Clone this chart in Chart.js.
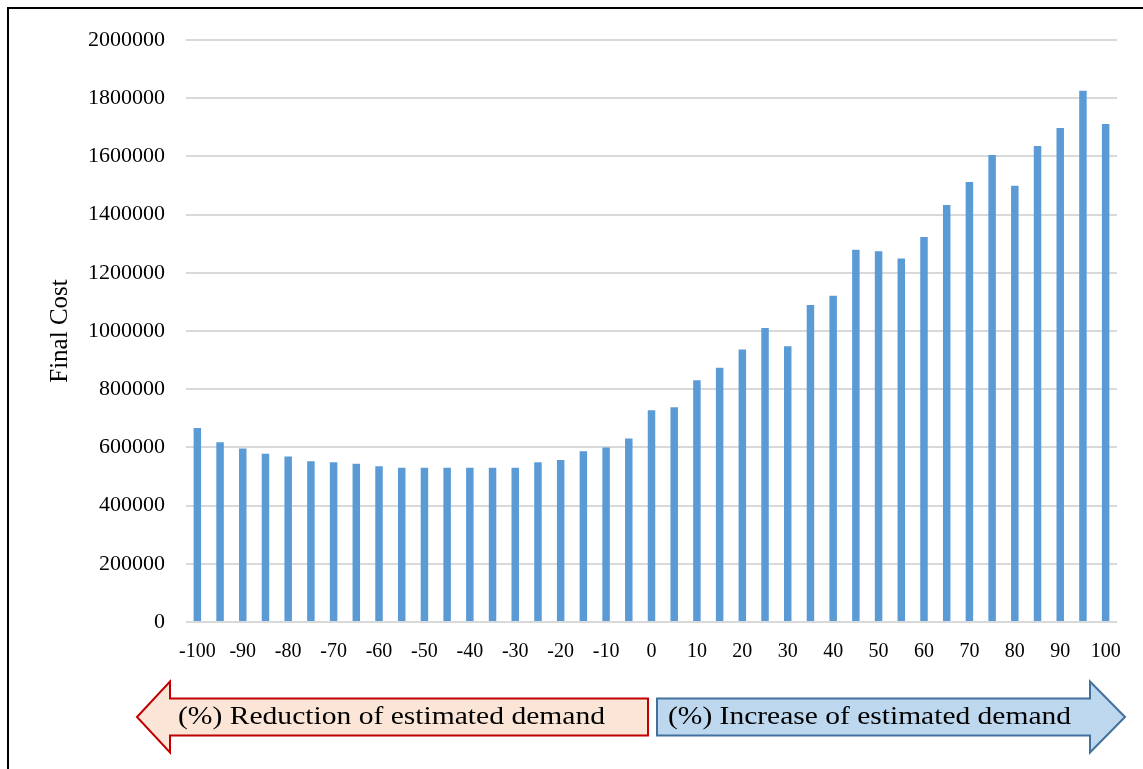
<!DOCTYPE html>
<html>
<head>
<meta charset="utf-8">
<script src="https://cdn.jsdelivr.net/npm/chart.js@4.4.1/dist/chart.umd.min.js"></script>
<style>
  html, body { margin: 0; padding: 0; background: #fff; }
  #wrap { position: relative; width: 1143px; height: 769px; }
  #frame { position: absolute; left: 7px; top: 7px; width: 1150px; height: 780px;
           border-left: 2px solid #000; border-top: 2px solid #000; pointer-events: none; }
</style>
</head>
<body>
<div id="wrap">
  <canvas id="costChart" width="1143" height="769"></canvas>
  <div id="frame"></div>
</div>
<script>
// demand change (%) and resulting final cost
const demandChange = [-100, -95, -90, -85, -80, -75, -70, -65, -60, -55, -50, -45, -40, -35, -30, -25, -20, -15, -10, -5,
    0, 5, 10, 15, 20, 25, 30, 35, 40, 45, 50, 55, 60, 65, 70, 75, 80, 85, 90, 95, 100];
const finalCost = [667000, 618000, 596000, 578000, 569000, 552000, 549000, 544000, 535000, 530000,
    530000, 530000, 530000, 530000, 530000, 549000, 557000, 587000, 600000, 631000,
    728000, 738000, 831000, 874000, 936000, 1010000, 948000, 1089000, 1121000, 1279000,
    1274000, 1249000, 1323000, 1433000, 1512000, 1605000, 1499000, 1636000, 1698000, 1826000, 1711000];
const yTicks = [0, 200000, 400000, 600000, 800000, 1000000, 1200000, 1400000, 1600000, 1800000, 2000000];

const serif = "'Liberation Serif', 'Times New Roman', serif";

function arrow(ctx, bodyEnd, headX, tipX, yc, bodyH, headH, fill, stroke) {
    ctx.beginPath();
    ctx.moveTo(tipX, yc);
    ctx.lineTo(headX, yc - headH / 2);
    ctx.lineTo(headX, yc - bodyH / 2);
    ctx.lineTo(bodyEnd, yc - bodyH / 2);
    ctx.lineTo(bodyEnd, yc + bodyH / 2);
    ctx.lineTo(headX, yc + bodyH / 2);
    ctx.lineTo(headX, yc + headH / 2);
    ctx.closePath();
    ctx.fillStyle = fill;
    ctx.fill();
    ctx.lineWidth = 2;
    ctx.strokeStyle = stroke;
    ctx.stroke();
}

// text squeezed/stretched to a given width, like the original figure
function fitText(ctx, text, x, y, width) {
    const w = ctx.measureText(text).width;
    ctx.save();
    ctx.translate(x, y);
    ctx.scale(width / w, 1);
    ctx.fillText(text, 0, 0);
    ctx.restore();
}

const arrowsPlugin = {
    id: 'demandArrows',
    afterDraw(chart) {
        const ctx = chart.ctx;
        ctx.save();
        const yc = 717;
        arrow(ctx, 648, 170, 137, yc, 37, 71, '#fbe5d6', '#c00000');
        arrow(ctx, 657, 1090, 1125, yc, 37, 71, '#bdd7ee', '#41719c');
        ctx.fillStyle = '#000';
        ctx.font = '26px ' + serif;
        ctx.textBaseline = 'middle';
        ctx.textAlign = 'left';
        fitText(ctx, '(%) Reduction of estimated demand', 178, yc, 427);
        fitText(ctx, '(%) Increase of estimated demand', 668, yc, 403);
        ctx.restore();
    }
};

const ctx = document.getElementById('costChart').getContext('2d');
const costChart = new Chart(ctx, {
    type: 'bar',
    data: {
        labels: demandChange,
        datasets: [{
            label: 'Final Cost',
            data: finalCost,
            backgroundColor: '#5b9bd5',
            categoryPercentage: 1,
            barPercentage: 0.33,
        }]
    },
    options: {
        responsive: false,
        animation: false,
        layout: { padding: { left: 0, right: 26, top: 40, bottom: 0 } },
        plugins: {
            legend: { display: false },
            tooltip: { enabled: false }
        },
        scales: {
            x: {
                grid: { display: false, drawTicks: false },
                border: { display: false },
                ticks: {
                    autoSkip: false,
                    maxRotation: 0,
                    padding: 18,
                    color: '#000',
                    font: { family: serif, size: 20 },
                    callback: function (val, i) {
                        return i % 2 === 0 ? String(demandChange[i]) : '';
                    }
                },
                afterFit: function (axis) { axis.height = 147; }
            },
            y: {
                min: 0,
                max: 2000000,
                afterBuildTicks: function (axis) {
                    axis.ticks = yTicks.map(v => ({ value: v }));
                },
                grid: { color: '#d9d9d9', lineWidth: 2, drawTicks: false },
                border: { display: false },
                ticks: {
                    padding: 21,
                    color: '#000',
                    font: { family: serif, size: 22 },
                    callback: v => String(v)
                },
                title: {
                    display: true,
                    text: 'Final Cost',
                    color: '#000',
                    font: { family: serif, size: 25 },
                    padding: { top: 45, bottom: 0 }
                },
                afterFit: function (axis) { axis.width = 186; }
            }
        }
    },
    plugins: [arrowsPlugin]
});
</script>
</body>
</html>
